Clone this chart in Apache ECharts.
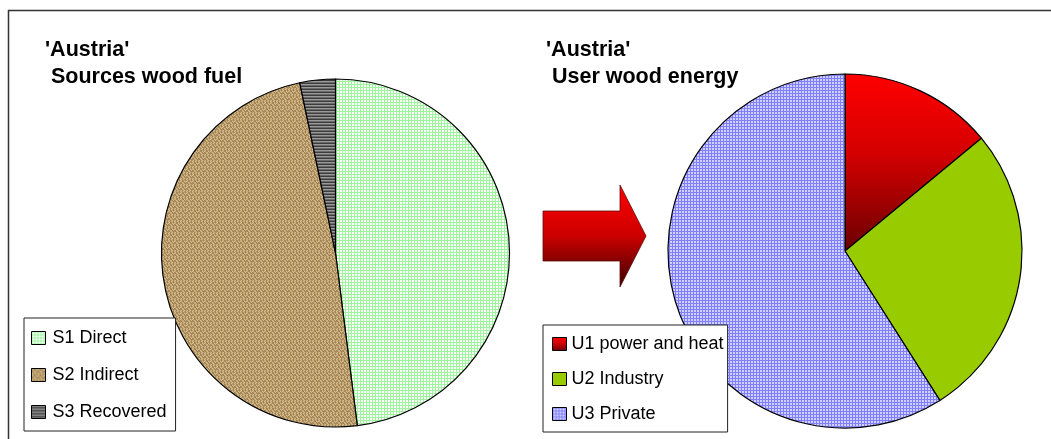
<!DOCTYPE html>
<html>
<head>
<meta charset="utf-8">
<script src="https://cdn.jsdelivr.net/npm/echarts@6/dist/echarts.min.js"></script>
<style>
  html, body { margin: 0; padding: 0; background: #fff; }
  #chart { width: 1051px; height: 439px; }
</style>
</head>
<body>
<div id="chart"></div>
<script>
// data
var sourceNames = ["S1 Direct", "S2 Indirect", "S3 Recovered"];
var sourceValues = [48.0, 48.7, 3.3];
var userNames = ["U1 power and heat", "U2 Industry", "U3 Private"];
var userValues = [14.0, 27.0, 59.0];
var titleLeft = "'Austria'\n Sources wood fuel";
var titleRight = "'Austria'\n User wood energy";

var FONT = "Arial, 'Liberation Sans', sans-serif";

// small tile patterns used as fills
function tile(w, h, draw) {
  var c = document.createElement("canvas");
  c.width = w; c.height = h;
  draw(c.getContext("2d"));
  return { image: c, repeat: "repeat" };
}
function px(ctx, x, y, col) { ctx.fillStyle = col; ctx.fillRect(x, y, 1, 1); }

// light green dotted grid
var greenFill = tile(3, 3, function (ctx) {
  ctx.fillStyle = "#ffffff"; ctx.fillRect(0, 0, 3, 3);
  ctx.fillStyle = "#9ef59e"; ctx.fillRect(0, 0, 3, 1); ctx.fillRect(0, 0, 1, 3);
});
// blue/lavender dotted grid
var blueFill = tile(3, 3, function (ctx) {
  ctx.fillStyle = "#d0d0ff"; ctx.fillRect(0, 0, 3, 3);
  ctx.fillStyle = "#7f7fff"; ctx.fillRect(0, 0, 3, 1); ctx.fillRect(0, 0, 1, 3);
});
// grey horizontal stripes
var stripeFill = tile(3, 3, function (ctx) {
  ctx.fillStyle = "#9a9a9a"; ctx.fillRect(0, 0, 3, 3);
  ctx.fillStyle = "#3c3c3c"; ctx.fillRect(0, 2, 3, 1);
  ctx.fillStyle = "#6a6a6a"; ctx.fillRect(0, 1, 3, 1);
});
// burlap weave
var burlapFill = tile(6, 6, function (ctx) {
  var a = "#bfa170", b = "#9e8052", c = "#d4bc8a", d = "#ad9062";
  var m = [
    [a, c, b, d, a, b],
    [c, a, d, b, c, a],
    [b, d, c, a, b, c],
    [d, b, a, c, d, b],
    [a, c, b, a, c, d],
    [c, a, d, c, a, b]
  ];
  for (var y = 0; y < 6; y++) for (var x = 0; x < 6; x++) px(ctx, x, y, m[y][x]);
});
var redFill = {
  type: "linear", x: 0, y: 0, x2: 0, y2: 1,
  colorStops: [{ offset: 0, color: "#ff0000" }, { offset: 0.45, color: "#d40000" }, { offset: 1, color: "#6a0000" }]
};

var sourceColors = [greenFill, burlapFill, stripeFill];
var userColors = [redFill, "#99cc00", blueFill];

function pieData(names, values, colors) {
  return names.map(function (n, i) {
    return { name: n, value: values[i], itemStyle: { color: colors[i] } };
  });
}

var chart = echarts.init(document.getElementById("chart"));
var option = {
  animation: false,
  backgroundColor: "#ffffff",
  title: [
    {
      text: titleLeft, left: 45, top: 37, padding: 0,
      textStyle: { fontFamily: FONT, fontSize: 21.5, fontWeight: "bold", color: "#000", lineHeight: 27 }
    },
    {
      text: titleRight, left: 546, top: 37, padding: 0,
      textStyle: { fontFamily: FONT, fontSize: 21.5, fontWeight: "bold", color: "#000", lineHeight: 27 }
    }
  ],
  legend: [
    {
      data: sourceNames, orient: "vertical", left: 24, top: 318,
      padding: [11, 9, 10, 7], itemGap: 19, itemWidth: 14, itemHeight: 13,
      backgroundColor: "#fff", borderColor: "#222", borderWidth: 1,
      icon: "rect", selectedMode: false,
      itemStyle: { borderColor: "#000", borderWidth: 1 },
      textStyle: { fontFamily: FONT, fontSize: 18, color: "#000", padding: [0, 0, 0, 2] }
    },
    {
      data: userNames, orient: "vertical", left: 543, top: 325,
      padding: [10, 4, 9, 9], itemGap: 17, itemWidth: 14, itemHeight: 13,
      backgroundColor: "#fff", borderColor: "#222", borderWidth: 1,
      icon: "rect", selectedMode: false,
      itemStyle: { borderColor: "#000", borderWidth: 1 },
      textStyle: { fontFamily: FONT, fontSize: 18, color: "#000" }
    }
  ],
  graphic: [
    {
      type: "rect", silent: true, z: -1,
      shape: { x: 8.5, y: 10.5, width: 1200, height: 600 },
      style: { fill: null, stroke: "#333", lineWidth: 1.5 }
    },
    {
      type: "polygon", silent: true,
      shape: { points: [[543, 211], [620, 211], [620, 185], [646, 236], [620, 287], [620, 261], [543, 261]] },
      style: {
        stroke: "#5a1010", lineWidth: 0.8,
        fill: { type: "linear", x: 0, y: 0, x2: 0, y2: 1,
          colorStops: [{ offset: 0, color: "#ff0000" }, { offset: 0.5, color: "#cc0000" }, { offset: 1, color: "#3a0000" }] }
      }
    }
  ],
  series: [
    {
      type: "pie", name: "Sources", center: [335.5, 253], radius: 174,
      startAngle: 90, clockwise: true, label: { show: false }, labelLine: { show: false },
      emphasis: { disabled: true }, silent: true,
      itemStyle: { borderColor: "#000", borderWidth: 1.2 },
      data: pieData(sourceNames, sourceValues, sourceColors)
    },
    {
      type: "pie", name: "Users", center: [845, 251], radius: 177,
      startAngle: 90, clockwise: true, label: { show: false }, labelLine: { show: false },
      emphasis: { disabled: true }, silent: true,
      itemStyle: { borderColor: "#000", borderWidth: 1.2 },
      data: pieData(userNames, userValues, userColors)
    }
  ]
};
chart.setOption(option);
</script>
</body>
</html>
